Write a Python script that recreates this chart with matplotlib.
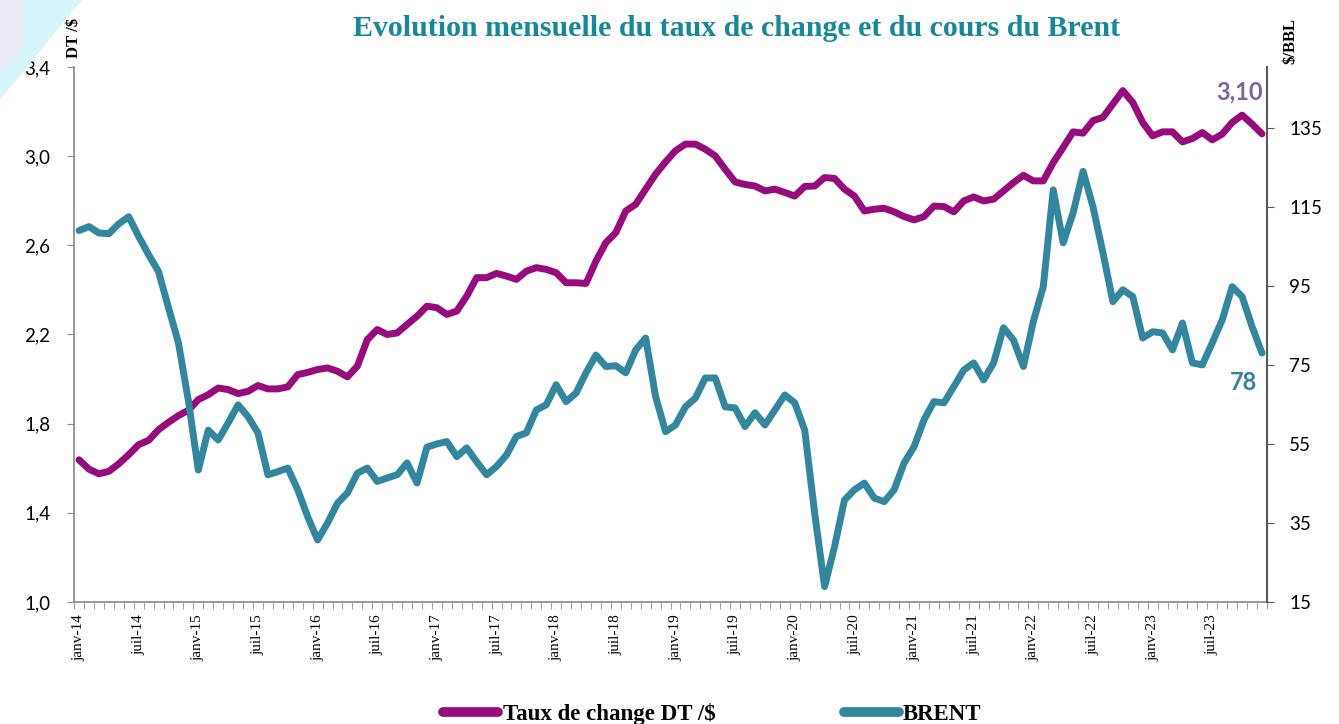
import numpy as np
import matplotlib
matplotlib.use("Agg")
import matplotlib.pyplot as plt
from matplotlib.patches import Polygon

# monthly data, janv-14 .. dec-23
tnd = [1.638, 1.596, 1.575, 1.586, 1.620, 1.661, 1.706, 1.725, 1.773, 1.806, 1.836, 1.860,
       1.908, 1.930, 1.960, 1.953, 1.935, 1.945, 1.971, 1.956, 1.956, 1.965, 2.020, 2.030,
       2.043, 2.050, 2.035, 2.010, 2.058, 2.177, 2.222, 2.200, 2.207, 2.245, 2.282, 2.327,
       2.320, 2.290, 2.305, 2.372, 2.455, 2.455, 2.474, 2.462, 2.447, 2.484, 2.500, 2.492,
       2.477, 2.432, 2.432, 2.429, 2.529, 2.612, 2.657, 2.754, 2.784, 2.852, 2.919, 2.974,
       3.024, 3.054, 3.054, 3.031, 3.001, 2.941, 2.884, 2.873, 2.866, 2.844, 2.852, 2.837,
       2.821, 2.864, 2.866, 2.904, 2.900, 2.852, 2.821, 2.754, 2.762, 2.766, 2.750, 2.729,
       2.714, 2.729, 2.776, 2.774, 2.750, 2.799, 2.817, 2.799, 2.807, 2.844, 2.881, 2.914,
       2.889, 2.889, 2.971, 3.039, 3.109, 3.103, 3.159, 3.174, 3.234, 3.294, 3.241, 3.151,
       3.091, 3.109, 3.109, 3.064, 3.079, 3.106, 3.073, 3.099, 3.151, 3.184, 3.144, 3.10]

brent = [109.0, 110.0, 108.4, 108.2, 110.7, 112.5, 107.5, 102.9, 98.6, 89.5, 80.6, 66.0,
         48.4, 58.5, 56.0, 60.3, 64.9, 61.9, 57.8, 47.2, 48.0, 48.9, 43.4, 36.6,
         30.7, 35.0, 40.0, 42.6, 47.6, 48.9, 45.5, 46.4, 47.2, 50.2, 45.1, 54.2,
         55.0, 55.6, 51.8, 54.0, 50.5, 47.2, 49.3, 52.2, 56.9, 57.8, 63.6, 64.9,
         70.0, 65.7, 67.9, 73.0, 77.5, 74.6, 74.8, 73.0, 78.8, 81.8, 67.0, 58.1,
         59.8, 64.4, 66.6, 71.7, 71.7, 64.4, 64.1, 59.4, 62.9, 59.8, 63.6, 67.4,
         65.4, 58.5, 37.5, 18.9, 29.0, 40.8, 43.4, 45.1, 41.3, 40.4, 43.4, 50.2,
         54.3, 61.1, 65.7, 65.4, 69.5, 73.7, 75.5, 71.2, 75.5, 84.4, 81.3, 74.6,
         86.0, 94.8, 119.3, 105.9, 113.5, 124.0, 115.0, 103.4, 91.0, 94.0, 92.3, 81.8,
         83.4, 83.1, 78.8, 85.6, 75.5, 75.0, 80.6, 86.4, 94.8, 92.3, 84.7, 78.0]

xlabels = ["janv-14", "juil-14", "janv-15", "juil-15", "janv-16", "juil-16", "janv-17",
           "juil-17", "janv-18", "juil-18", "janv-19", "juil-19", "janv-20", "juil-20",
           "janv-21", "juil-21", "janv-22", "juil-22", "janv-23", "juil-23"]
left_ticks = [1.0, 1.4, 1.8, 2.2, 2.6, 3.0, 3.4]
right_ticks = [15, 35, 55, 75, 95, 115, 135]

purple = "#970B7C"
teal = "#32879E"
serif = "Liberation Serif"
sans = "Lato"

months = np.arange(len(tnd))

fig = plt.figure(figsize=(13.39, 7.24), dpi=100)
ax = fig.add_axes([0.0553, 0.1685, 0.8909, 0.739])

# slide decoration top-left
fig.patches.append(Polygon([[0, 1], [82 / 1339, 1], [0, 1 - 100 / 724]], closed=True,
                           transform=fig.transFigure, facecolor="#D6F6FB", edgecolor="none", zorder=0))
fig.patches.append(Polygon([[0, 1], [25 / 1339, 1], [25 / 1339, 1 - 45 / 724], [0, 1 - 72 / 724]],
                           closed=True, transform=fig.transFigure, facecolor="#ECECF8",
                           edgecolor="none", zorder=0))
ax.patch.set_alpha(0)

l1, = ax.plot(months, tnd, color=purple, lw=5, solid_joinstyle="round",
              solid_capstyle="round", label="Taux de change DT /$")
ax.set_xlim(-0.5, len(tnd) - 0.5)
ax.set_ylim(1.0, 3.4)
ax.set_yticks(left_ticks)
ax.set_yticklabels([f"{v:.1f}".replace(".", ",") for v in left_ticks],
                   fontfamily=sans, fontsize=13.5)
ax.set_xticks(months[::6])
ax.set_xticklabels(xlabels, rotation=90, fontfamily=serif, fontsize=11)
ax.set_xticks(np.arange(len(tnd) + 1) - 0.5, minor=True)
ax.tick_params(axis="x", which="major", length=0, pad=9)
ax.tick_params(axis="x", which="minor", length=5, color="#898989", direction="out")
ax.tick_params(axis="y", length=5, color="#898989", pad=12)
for s in ["top", "right"]:
    ax.spines[s].set_visible(False)
for s in ["left", "bottom"]:
    ax.spines[s].set_color("#898989")
    ax.spines[s].set_linewidth(1.2)

ax2 = ax.twinx()
l2, = ax2.plot(months, brent, color=teal, lw=5, solid_joinstyle="round",
               solid_capstyle="round", label="BRENT")
ax2.set_ylim(15, 150.4)
ax2.set_yticks(right_ticks)
ax2.set_yticklabels([str(v) for v in right_ticks], fontfamily=sans, fontsize=13.5)
ax2.tick_params(axis="y", length=5, color="#595959", pad=11)
for s in ["top", "left", "bottom"]:
    ax2.spines[s].set_visible(False)
ax2.spines["right"].set_color("#595959")
ax2.spines["right"].set_linewidth(1.5)

# last values
ax.annotate(f"{tnd[-1]:.2f}".replace(".", ","), xy=(months[-1], tnd[-1]),
            xytext=(-16, 30), textcoords="offset points", ha="center", va="center",
            color="#8064A2", fontfamily=sans, fontweight="bold", fontsize=17)
ax2.annotate(f"{brent[-1]:.0f}", xy=(months[-1], brent[-1]),
             xytext=(-13, -21), textcoords="offset points", ha="center", va="center",
             color="#31849B", fontfamily=sans, fontweight="bold", fontsize=17)

fig.text(737 / 1339, 1 - 28 / 724, "Evolution mensuelle du taux de change et du cours du Brent",
         ha="center", va="center", color="#17879A", fontfamily=serif,
         fontweight="bold", fontsize=21.5)
fig.text(74 / 1339, 1 - 38 / 724, "DT /$", rotation=90, ha="center", va="center",
         fontfamily=serif, fontweight="bold", fontsize=12)
fig.text(1290 / 1339, 1 - 41 / 724, "$/BBL", rotation=90, ha="center", va="center",
         fontfamily=serif, fontweight="bold", fontsize=12)

leg = fig.legend(handles=[l1, l2], loc="center", bbox_to_anchor=(0.532, 0.014), ncol=2,
                 frameon=False, handlelength=2.4, handletextpad=0.2, columnspacing=5.6,
                 prop={"family": serif, "weight": "bold", "size": 16.5})
for h in leg.legend_handles:
    h.set_linewidth(7)

fig.savefig("out.png", dpi=100)
